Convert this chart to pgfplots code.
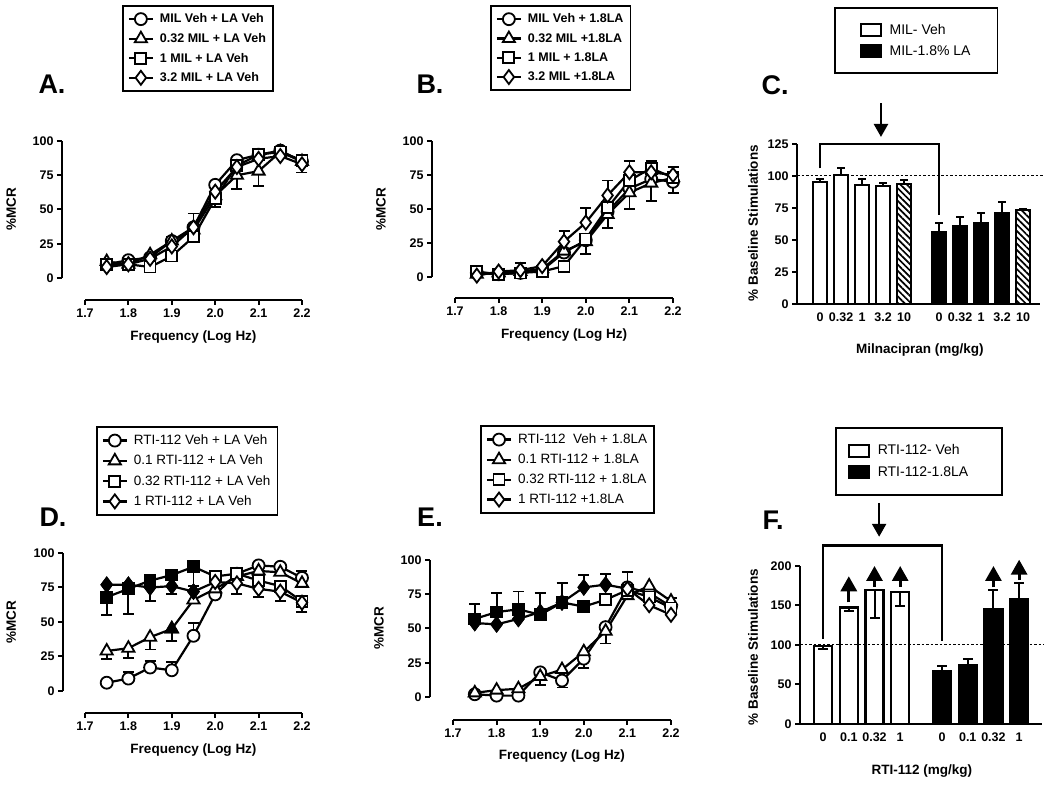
\documentclass[border=0pt]{standalone}
\usepackage{fontspec}
\setmainfont{Liberation Sans}
\usepackage{pgfplots}
\pgfplotsset{compat=1.18}
\usetikzlibrary{patterns.meta,arrows.meta}

\pgfplotsset{
  base/.style={scale only axis, clip=false,
    axis x line*=bottom, axis y line*=left,
    tick align=outside, major tick length=5pt, minor tick num=0,
    axis line style={line width=2.2pt},
    tick style={line width=2pt, black},
    tick label style={font=\bfseries\fontsize{12.5}{13}\selectfont},
    /pgf/number format/assume math mode=true,
    label style={font=\bfseries\fontsize{13.5}{15}\selectfont},
    legend cell align=left},
  curve/.style={base, xmin=1.7, xmax=2.2, ymin=0, ymax=100,
    width=217pt, height=137pt,
    xtick={1.7,1.8,1.9,2.0,2.1,2.2}, ytick={0,25,50,75,100},
    xticklabel style={/pgf/number format/.cd, fixed, fixed zerofill, precision=1},
    xlabel={Frequency (Log Hz)}, ylabel={\%MCR},
    xlabel style={at={(axis description cs:0.5,-0.43)}, anchor=center},
    ylabel style={at={(axis description cs:-0.34,0.5)}, anchor=center},
    legend style={draw=black, line width=1.8pt, anchor=north west,
      inner xsep=5pt, inner ysep=6pt, row sep=5pt, column sep=4pt},
    legend image code/.code={\draw[mark repeat=2, mark phase=2, #1]
      plot coordinates {(0pt,0pt) (12pt,0pt) (24pt,0pt)};}},
  ser/.style={black, line width=2.2pt, mark options={fill=white, line width=1.8pt, solid}},
  errup/.style={black, only marks, mark=none, forget plot,
    /pgfplots/error bars/y dir=plus, /pgfplots/error bars/y explicit,
    /pgfplots/error bars/error bar style={line width=1.8pt, black},
    /pgfplots/error bars/error mark options={rotate=90, mark size=5.5pt, line width=1.8pt, black}},
  errdn/.style={errup, /pgfplots/error bars/y dir=minus},
  fillmk/.style={only marks, forget plot, mark options={fill=black, line width=1.8pt}},
  mO/.style={mark=*, mark size=6pt},
  mT/.style={mark=triangle*, mark size=7pt},
  mS/.style={mark=square*, mark size=5.5pt},
  mD/.style={mark=diamond*, mark size=7pt},
  bars/.style={base, ylabel={\% Baseline Stimulations},
    xtick style={draw=none},
    legend style={draw=black, line width=1.8pt, anchor=north west,
      row sep=6pt, column sep=6pt, font=\fontsize{14}{15}\selectfont}},
  barleg/.style={legend image code/.code={\draw[#1,/tikz/.cd,line width=1.8pt] (0pt,-6pt) rectangle (20pt,6pt);}},
  hatch/.style={fill=white, draw=black, line width=2.2pt,
    postaction={pattern={Lines[angle=-45,distance=4.5pt,line width=1.7pt]}}},
}

\begin{document}
\begin{tikzpicture}[x=1pt,y=1pt]
\useasboundingbox (0,0) rectangle (1050,786);

% ---------------- A ----------------
\begin{axis}[curve, at={(85pt,508pt)}, anchor=south west,
  axis x line shift=22pt, axis y line shift=23pt,
  legend style={at={(axis description cs:0.17,1.993)},
    font=\bfseries\fontsize{12.5}{13}\selectfont}]
\addplot[errup] coordinates {(1.90,27) +- (0,3) (1.95,37) +- (0,10) (2.00,63) +- (0,8) (2.20,83) +- (0,6)};
\addplot[errdn] coordinates {(2.00,58) +- (0,6) (2.05,75) +- (0,10) (2.10,78) +- (0,11) (2.20,85) +- (0,8)};
\addplot[ser, mO] coordinates {(1.75,10) (1.80,13) (1.85,15) (1.90,27) (1.95,37) (2.00,68) (2.05,86) (2.10,90) (2.15,93) (2.20,85)};
\addlegendentry{MIL Veh + LA Veh}
\addplot[ser, mT] coordinates {(1.75,12) (1.80,10) (1.85,17) (1.90,27) (1.95,35) (2.00,60) (2.05,75) (2.10,78) (2.15,92) (2.20,85)};
\addlegendentry{0.32 MIL + LA Veh}
\addplot[ser, mS] coordinates {(1.75,10) (1.80,10) (1.85,8) (1.90,16) (1.95,30) (2.00,58) (2.05,82) (2.10,90) (2.15,92) (2.20,86)};
\addlegendentry{1 MIL + LA Veh}
\addplot[ser, mD] coordinates {(1.75,8) (1.80,10) (1.85,14) (1.90,23) (1.95,37) (2.00,63) (2.05,81) (2.10,87) (2.15,89) (2.20,83)};
\addlegendentry{3.2 MIL + LA Veh}
\end{axis}

% ---------------- B ----------------
\begin{axis}[curve, at={(455pt,509pt)}, anchor=south west, width=218pt, height=136pt,
  axis x line shift=21pt, axis y line shift=23pt,
  legend style={at={(axis description cs:0.16,2.0)},
    font=\bfseries\fontsize{12.5}{13}\selectfont}]
\addplot[errup] coordinates {(1.85,5) +- (0,5) (1.95,26) +- (0,8) (2.00,40) +- (0,11) (2.05,60) +- (0,11) (2.10,77) +- (0,8) (2.15,80) +- (0,5) (2.20,75) +- (0,6)};
\addplot[errdn] coordinates {(2.00,26) +- (0,9) (2.05,51) +- (0,15) (2.10,62) +- (0,12) (2.15,69) +- (0,13) (2.20,70) +- (0,8)};
\addplot[ser, mO] coordinates {(1.75,3) (1.80,2) (1.85,3) (1.90,5) (1.95,18) (2.00,27) (2.05,48) (2.10,65) (2.15,72) (2.20,70)};
\addlegendentry{MIL Veh + 1.8LA}
\addplot[ser, mT] coordinates {(1.75,2) (1.80,3) (1.85,4) (1.90,6) (1.95,19) (2.00,26) (2.05,46) (2.10,62) (2.15,69) (2.20,73)};
\addlegendentry{0.32 MIL +1.8LA}
\addplot[ser, mS] coordinates {(1.75,4) (1.80,2) (1.85,3) (1.90,4) (1.95,8) (2.00,28) (2.05,51) (2.10,71) (2.15,80) (2.20,73)};
\addlegendentry{1 MIL + 1.8LA}
\addplot[ser, mD] coordinates {(1.75,1) (1.80,4) (1.85,5) (1.90,8) (1.95,26) (2.00,40) (2.05,60) (2.10,77) (2.15,77) (2.20,75)};
\addlegendentry{3.2 MIL +1.8LA}
\end{axis}

% ---------------- D ----------------
\begin{axis}[curve, at={(85pt,95pt)}, anchor=south west, height=138pt,
  axis x line shift=22pt, axis y line shift=22pt,
  legend style={at={(axis description cs:0.05,1.92)},
    font=\fontsize{13.5}{14}\selectfont}]
\addplot[errup] coordinates {(1.80,9) +- (0,5) (1.85,17) +- (0,5) (1.90,15) +- (0,6) (1.95,40) +- (0,9) (2.20,82) +- (0,5)};
\addplot[errdn] coordinates {(1.75,29) +- (0,6) (1.80,31) +- (0,7) (1.85,39) +- (0,9) (1.90,45) +- (0,9) (1.75,68) +- (0,13) (1.80,74) +- (0,18) (1.85,75) +- (0,10) (1.90,76) +- (0,6) (1.95,90) +- (0,14) (2.05,78) +- (0,8) (2.10,74) +- (0,6) (2.15,72) +- (0,7) (2.20,64) +- (0,7)};
\addplot[ser, mO] coordinates {(1.75,6) (1.80,9) (1.85,17) (1.90,15) (1.95,40) (2.00,70) (2.05,85) (2.10,91) (2.15,90) (2.20,82)};
\addlegendentry{RTI-112 Veh + LA Veh}
\addplot[ser, mT] coordinates {(1.75,29) (1.80,31) (1.85,39) (1.90,45) (1.95,66) (2.00,74) (2.05,83) (2.10,87) (2.15,86) (2.20,78)};
\addlegendentry{0.1 RTI-112 + LA Veh}
\addplot[ser, mS] coordinates {(1.75,68) (1.80,74) (1.85,80) (1.90,84) (1.95,90) (2.00,83) (2.05,85) (2.10,80) (2.15,76) (2.20,65)};
\addlegendentry{0.32 RTI-112 + LA Veh}
\addplot[ser, mD] coordinates {(1.75,77) (1.80,77) (1.85,75) (1.90,76) (1.95,72) (2.00,79) (2.05,78) (2.10,74) (2.15,72) (2.20,64)};
\addlegendentry{1 RTI-112 + LA Veh}
\addplot[fillmk, mS] coordinates {(1.75,68) (1.80,74) (1.85,80) (1.90,84) (1.95,90)};
\addplot[fillmk, mD] coordinates {(1.75,77) (1.80,77) (1.85,75) (1.90,76) (1.95,72)};
\addplot[fillmk, mT] coordinates {(1.90,45)};
\end{axis}

% ---------------- E ----------------
\begin{axis}[curve, at={(453pt,89pt)}, anchor=south west, width=218pt,
  axis x line shift=23pt, axis y line shift=23pt,
  legend style={at={(axis description cs:0.124,1.985)},
    font=\fontsize{13.5}{14}\selectfont}]
\addplot[errup] coordinates {(1.75,57) +- (0,11) (1.80,62) +- (0,14) (1.85,64) +- (0,13) (1.90,62) +- (0,14) (1.95,69) +- (0,14) (2.00,80) +- (0,9) (2.05,82) +- (0,8) (2.10,80) +- (0,11) (2.20,66) +- (0,6)};
\addplot[errdn] coordinates {(1.90,15) +- (0,6) (1.95,12) +- (0,5) (2.00,28) +- (0,7) (2.05,48) +- (0,9)};
\addplot[ser, mO] coordinates {(1.75,2) (1.80,1) (1.85,1) (1.90,18) (1.95,12) (2.00,28) (2.05,51) (2.10,80) (2.15,76) (2.20,66)};
\addlegendentry{RTI-112~ Veh + 1.8LA}
\addplot[ser, mT] coordinates {(1.75,3) (1.80,5) (1.85,6) (1.90,15) (1.95,20) (2.00,33) (2.05,48) (2.10,74) (2.15,81) (2.20,70)};
\addlegendentry{0.1 RTI-112 + 1.8LA}
\addplot[ser, mS] coordinates {(1.75,57) (1.80,62) (1.85,64) (1.90,60) (1.95,69) (2.00,66) (2.05,71) (2.10,78) (2.15,73) (2.20,65)};
\addlegendentry{0.32 RTI-112 + 1.8LA}
\addplot[ser, mD] coordinates {(1.75,54) (1.80,53) (1.85,57) (1.90,62) (1.95,69) (2.00,80) (2.05,82) (2.10,79) (2.15,67) (2.20,60)};
\addlegendentry{1 RTI-112 +1.8LA}
\addplot[fillmk, mS] coordinates {(1.75,57) (1.80,62) (1.85,64) (1.90,60) (1.95,69) (2.00,66)};
\addplot[fillmk, mD] coordinates {(1.75,54) (1.80,53) (1.85,57) (1.90,62) (1.95,69) (2.00,80) (2.05,82)};
\end{axis}

% ---------------- C ----------------
\begin{axis}[bars, at={(797pt,482pt)}, anchor=south west, width=243pt, height=160pt,
  xmin=-1.1, xmax=10.476, ymin=0, ymax=125, ytick={0,25,50,75,100,125},
  xtick={0,1,2,3,4,5.67,6.67,7.67,8.67,9.67},
  xticklabels={0,0.32,1,3.2,10,0,0.32,1,3.2,10},
  xlabel={Milnacipran (mg/kg)},
  xlabel style={at={(axis description cs:0.506,-0.2875)}, anchor=center},
  ylabel style={at={(axis description cs:-0.181,0.506)}, anchor=center},
  legend style={at={(axis description cs:0.152,1.856)}, inner xsep=25pt, inner ysep=14pt}]
\addplot[ybar, bar width=13.5pt, bar shift=0pt, barleg, fill=white, draw=black, line width=2.2pt,
  error bars/.cd, y dir=plus, y explicit, error bar style={line width=2pt},
  error mark options={rotate=90, mark size=4pt, line width=2pt}]
  coordinates {(0,95) +- (0,2.5) (1,101) +- (0,5) (2,93) +- (0,5) (3,92) +- (0,2.5)};
\addlegendentry{MIL- Veh}
\addplot[ybar, bar width=13.5pt, bar shift=0pt, barleg, fill=black, draw=black, line width=2.2pt,
  error bars/.cd, y dir=plus, y explicit, error bar style={line width=2pt},
  error mark options={rotate=90, mark size=4pt, line width=2pt}]
  coordinates {(5.67,56.5) +- (0,6.5) (6.67,60.5) +- (0,7.5) (7.67,63) +- (0,8) (8.67,71) +- (0,9)};
\addlegendentry{MIL-1.8\% LA}
\addplot[ybar, bar width=13.5pt, bar shift=0pt, hatch, forget plot,
  error bars/.cd, y dir=plus, y explicit, error bar style={line width=2pt},
  error mark options={rotate=90, mark size=4pt, line width=2pt}]
  coordinates {(4,94) +- (0,3) (9.67,73.5) +- (0,0.5)};
\draw[line width=1pt, dash pattern=on 2.5pt off 2pt] (axis cs:-1.1,100) -- (axis cs:10.62,100);
\draw[line width=2.2pt] (axis cs:0,106) -- (axis cs:0,125) -- (axis cs:5.67,125) -- (axis cs:5.67,69.5);
\draw[line width=2.5pt, -{Triangle[width=14pt,length=13pt]}] (axis cs:2.9,157) -- (axis cs:2.9,130.5);
\end{axis}

% ---------------- F ----------------
\begin{axis}[bars, at={(800pt,62pt)}, anchor=south west, width=242pt, height=158pt,
  xmin=-0.9, xmax=8.52, ymin=0, ymax=200, ytick={0,50,100,150,200},
  xtick={0,1,2,3,4.63,5.63,6.63,7.63},
  xticklabels={0,0.1,0.32,1,0,0.1,0.32,1},
  xlabel={RTI-112 (mg/kg)},
  xlabel style={at={(axis description cs:0.504,-0.297)}, anchor=center},
  ylabel style={at={(axis description cs:-0.194,0.487)}, anchor=center},
  legend style={at={(axis description cs:0.145,1.88)}, inner xsep=12pt, inner ysep=15pt}]
\addplot[ybar, bar width=18pt, bar shift=0pt, barleg, fill=white, draw=black, line width=2.2pt,
  error bars/.cd, y dir=minus, y explicit, error bar style={line width=2pt},
  error mark options={rotate=90, mark size=5pt, line width=2pt}]
  coordinates {(0,98.5) +- (0,4) (1,147.5) +- (0,4.5) (2,170) +- (0,36) (3,167) +- (0,18)};
\addlegendentry{RTI-112- Veh}
\addplot[ybar, bar width=18pt, bar shift=0pt, barleg, fill=black, draw=black, line width=2.2pt,
  error bars/.cd, y dir=plus, y explicit, error bar style={line width=2pt},
  error mark options={rotate=90, mark size=5pt, line width=2pt}]
  coordinates {(4.63,67) +- (0,7) (5.63,74.5) +- (0,7.5) (6.63,145) +- (0,25) (7.63,158) +- (0,20)};
\addlegendentry{RTI-112-1.8LA\hspace*{20pt}}
\draw[line width=1pt, dash pattern=on 2.5pt off 2pt] (axis cs:-0.9,100) -- (axis cs:8.56,100);
\draw[line width=2.2pt] (axis cs:0,108) -- (axis cs:0,226) -- (axis cs:4.63,226) -- (axis cs:4.63,105);
\draw[line width=2.5pt, -{Triangle[width=14pt,length=13pt]}] (axis cs:2.18,280) -- (axis cs:2.18,237);
\draw[line width=3pt, -{Triangle[width=16pt,length=15pt]}] (axis cs:1,154) -- (axis cs:1,187);
\draw[line width=3pt, -{Triangle[width=16pt,length=15pt]}] (axis cs:2,174) -- (axis cs:2,200);
\draw[line width=3pt, -{Triangle[width=16pt,length=15pt]}] (axis cs:3,174) -- (axis cs:3,200);
\draw[line width=3pt, dash pattern=on 7pt off 3pt, -{Triangle[width=16pt,length=15pt]}] (axis cs:6.63,173) -- (axis cs:6.63,200);
\draw[line width=3pt, dash pattern=on 7pt off 3pt, -{Triangle[width=16pt,length=15pt]}] (axis cs:7.63,182) -- (axis cs:7.63,208);
\end{axis}

% panel letters
\node[font=\bfseries\fontsize{27}{27}\selectfont] at (52pt,702pt) {A.};
\node[font=\bfseries\fontsize{27}{27}\selectfont] at (430pt,702pt) {B.};
\node[font=\bfseries\fontsize{27}{27}\selectfont] at (775pt,701pt) {C.};
\node[font=\bfseries\fontsize{27}{27}\selectfont] at (53pt,269pt) {D.};
\node[font=\bfseries\fontsize{27}{27}\selectfont] at (430pt,269pt) {E.};
\node[font=\bfseries\fontsize{27}{27}\selectfont] at (773pt,266pt) {F.};
\end{tikzpicture}
\end{document}
